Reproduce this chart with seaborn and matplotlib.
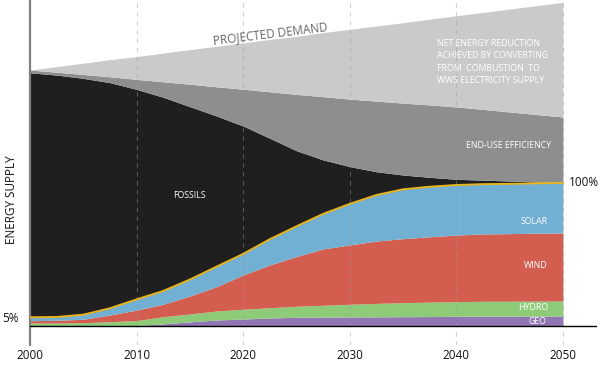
import numpy as np
import pandas as pd
import matplotlib
matplotlib.use("Agg")
import matplotlib.pyplot as plt
import seaborn as sns

# ---- data (percent of 2050 WWS supply), read every 2.5 years ----
years = [2000, 2002.5, 2005, 2007.5, 2010, 2012.5, 2015, 2017.5, 2020, 2022.5, 2025,
         2027.5, 2030, 2032.5, 2035, 2037.5, 2040, 2042.5, 2045, 2047.5, 2050]
geo = [0, 0, 0, 0, 0.3, 1.5, 2.9, 4.2, 4.9, 5.6, 6.1,
       6.3, 6.3, 6.4, 6.5, 6.6, 6.8, 6.9, 6.9, 7.0, 7.0]
hydro = [2.1, 2.1, 2.3, 3.0, 3.5, 5.0, 5.5, 6.3, 6.8, 7.2, 7.7,
         8.2, 8.9, 9.4, 9.8, 10.1, 10.2, 10.4, 10.4, 10.4, 10.5]
wind = [1.6, 1.9, 2.4, 4.7, 7.3, 8.7, 12.6, 17.0, 24.0, 29.9, 34.8,
        39.4, 41.5, 43.6, 44.8, 45.7, 46.6, 47.1, 47.3, 47.5, 47.6]
solar = [2.4, 2.3, 3.2, 4.7, 7.5, 9.3, 11.5, 14.0, 14.7, 18.0, 21.1,
         24.5, 28.7, 32.2, 34.5, 35.0, 35.0, 34.8, 34.8, 34.9, 35.0]
fossils = [171.0, 169.2, 165.3, 157.8, 146.9, 135.5, 120.9, 105.4, 89.5, 70.6, 52.9,
           37.8, 26.1, 16.3, 10.0, 6.6, 4.0, 2.8, 2.0, 0.9, 0.2]
efficiency = [1.9, 2.0, 2.7, 4.1, 7.0, 10.8, 15.7, 20.4, 25.7, 32.5, 39.4,
              44.2, 47.2, 49.4, 50.3, 50.6, 50.6, 49.5, 48.3, 47.2, 45.9]
reduction = [0, 3.9, 7.9, 12.0, 15.9, 20.1, 24.2, 28.3, 32.4, 36.6, 40.6,
             44.8, 48.8, 52.5, 56.2, 60.0, 63.8, 67.8, 72.0, 76.1, 80.2]
tick_years = [2000, 2010, 2020, 2030, 2040, 2050]

layer_colors = ["#9275b3", "#8dcb78", "#d35e4f", "#71b0d3",
                "#1f1f1f", "#8e8e8e", "#cacaca"]

sns.set_theme(style="white")
plt.rcParams['font.family'] = ['Open Sans', 'DejaVu Sans']

fig = plt.figure(figsize=(6, 3.69), dpi=100)
ax = fig.add_axes([30 / 600, 1 - 345 / 369, 567 / 600, 345 / 369])

ax.stackplot(years, geo, hydro, wind, solar, fossils, efficiency, reduction,
             colors=layer_colors, linewidth=0, zorder=1)

df = pd.DataFrame({"year": years,
                   "wws": np.array(geo) + np.array(hydro) + np.array(wind) + np.array(solar)})
sns.lineplot(data=df, x="year", y="wws", color="#e8b420", linewidth=1.4, ax=ax, zorder=3)

for y in tick_years[1:]:
    ax.axvline(y, color="#9a9a9a", alpha=0.45, linestyle=(0, (4, 4)), linewidth=0.8, zorder=2)

ax.axhline(0, color="black", linewidth=1.0, zorder=4)

ax.set_xlim(2000, 2053.2)
ax.set_ylim(-13.29, 228.0)
ax.set_xticks(tick_years)
ax.set_xticklabels([str(y) for y in tick_years], fontsize=8.5, color="#111111")
ax.tick_params(axis="x", length=0, pad=3)
ax.set_yticks([])
ax.set_xlabel("")
ax.set_ylabel("")
for s in ["top", "right", "bottom"]:
    ax.spines[s].set_visible(False)
ax.spines["left"].set_color("#808080")
ax.spines["left"].set_linewidth(1.6)


def px(x, y):
    return x / 600, 1 - y / 369


fig.text(*px(12, 200), "ENERGY SUPPLY", rotation=90, ha="center", va="center",
         fontsize=8.5, color="#111111")
fig.text(*px(10, 319), "5%", ha="center", va="center", fontsize=8.5, color="#111111")
fig.text(*px(584, 183), "100%", ha="center", va="center", fontsize=8.5, color="#111111")
fig.text(*px(270, 34), "PROJECTED DEMAND", rotation=7, ha="center", va="center",
         fontsize=8.5, color="#666666")

wkw = dict(color="white", fontsize=6.3)
fig.text(*px(189, 196), "FOSSILS", ha="center", va="center", **wkw)
fig.text(*px(548, 221), "SOLAR", ha="right", va="center", **wkw)
fig.text(*px(548, 266), "WIND", ha="right", va="center", **wkw)
fig.text(*px(548, 308), "HYDRO", ha="right", va="center", **wkw)
fig.text(*px(546, 321), "GEO", ha="right", va="center", **wkw)
fig.text(*px(551, 146), "END-USE EFFICIENCY", ha="right", va="center", **wkw)
fig.text(*px(437, 62), "NET ENERGY REDUCTION\nACHIEVED BY CONVERTING\nFROM  COMBUSTION  TO\nWWS ELECTRICITY SUPPLY",
         ha="left", va="center", linespacing=1.45, **wkw)

fig.savefig("out.png", dpi=100)
